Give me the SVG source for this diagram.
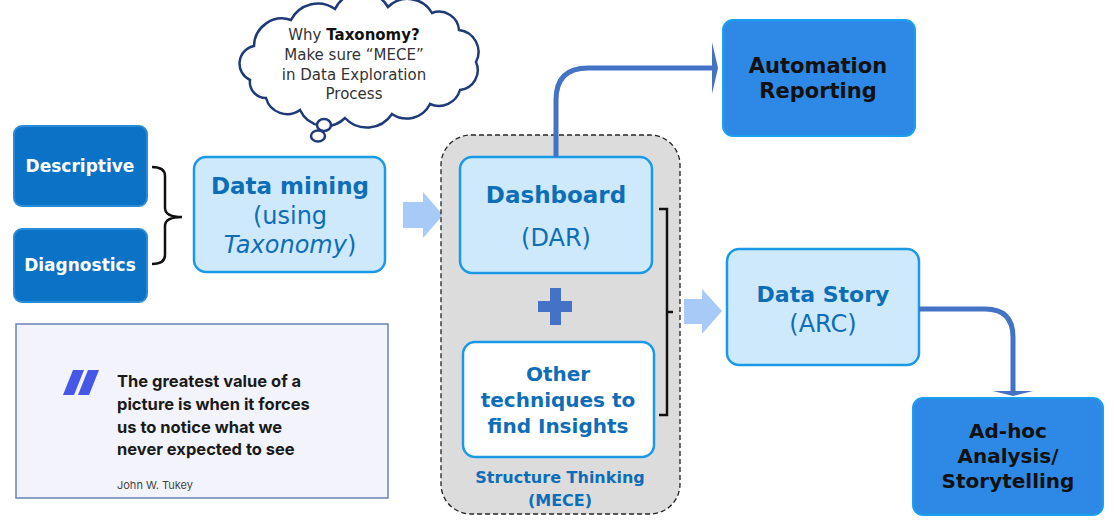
<svg xmlns="http://www.w3.org/2000/svg" width="1114" height="524" viewBox="0 0 1114 524">
<defs>
<style>
.dark{fill:#0B73C5;stroke:#2B8AD6;stroke-width:2}
.light{fill:#CDE9FB;stroke:#1A9AE6;stroke-width:2.5}
.white{fill:#FFFFFF;stroke:#1A9AE6;stroke-width:2.5}
.mid{fill:#2E89E6;stroke:#1AA0EE;stroke-width:2}
.t{font-family:"DejaVu Sans","Liberation Sans",sans-serif;text-anchor:middle}
.b{font-weight:bold}
.wt{fill:#FFFFFF}
.bt{fill:#0E6DB7}
.kt{fill:#111111}
.conn{fill:none;stroke:#4472C4;stroke-width:5}
.fat{fill:#A8CAF7}
.brace{fill:none;stroke:#111;stroke-width:2.5}
</style>
<marker id="ahTop" markerUnits="userSpaceOnUse" viewBox="-1 -28 9 56" markerWidth="9" markerHeight="56" refX="0" refY="0" orient="auto">
<path d="M0,-26 L6,0 L0,26 Z" fill="#4472C4"/>
</marker>
<marker id="ahBot" markerUnits="userSpaceOnUse" viewBox="-1 -22 8 44" markerWidth="8" markerHeight="44" refX="0" refY="0" orient="auto">
<path d="M0,-20 L5,0 L0,20 Z" fill="#4472C4"/>
</marker>
</defs>
<rect width="1114" height="524" fill="#FFFFFF"/>

<g id="flow-arrows">
<path class="fat" d="M403,202 H423 V192 L443,215 L423,238 V228 H403 Z"/>
<path class="fat" d="M684,299 H702 V289 L722,311 L702,334 V324 H684 Z"/>
</g>

<g id="container">
<rect x="441" y="135" width="239" height="379" rx="30" fill="#DCDCDC" stroke="#222" stroke-width="1.3" stroke-dasharray="5 3"/>
<text class="t b bt" x="560" y="483" font-size="16">Structure Thinking</text>
<text class="t b bt" x="560" y="506" font-size="16">(MECE)</text>
</g>

<g id="descriptive">
<rect class="dark" x="14" y="126" width="133" height="80" rx="8"/>
<text class="t b wt" x="80" y="172" font-size="17">Descriptive</text>
</g>
<g id="diagnostics">
<rect class="dark" x="14" y="229" width="133" height="73" rx="8"/>
<text class="t b wt" x="80" y="271" font-size="17">Diagnostics</text>
</g>

<g id="left-brace">
<path class="brace" d="M152,167 Q165,167 165,176 V208 Q165,217 182,217 Q165,217 165,226 V255 Q165,264 152,264"/>
</g>

<g id="data-mining">
<rect class="light" x="194" y="157" width="191" height="115" rx="12"/>
<text class="t b bt" x="290" y="194" font-size="23">Data mining</text>
<text class="t bt" x="290" y="224" font-size="24">(using</text>
<text class="t bt" x="290" y="253" font-size="24"><tspan font-style="italic">Taxonomy</tspan>)</text>
</g>

<g id="thought-cloud">
<path d="M250,80 A18,18 0 0 1 254,46 A28,28 0 0 1 291,20 A30,30 0 0 1 335,9 A30,30 0 0 1 388,7 A28,28 0 0 1 432,13 A20,20 0 0 1 459,30 A22,22 0 0 1 476,62 A20,20 0 0 1 460,90 A22,22 0 0 1 430,104 A26,26 0 0 1 392,114 A30,30 0 0 1 345,118 A28,28 0 0 1 300,110 A22,22 0 0 1 266,98 A16,16 0 0 1 250,80 Z" fill="#FFFFFF" stroke="#1F3A78" stroke-width="2.5"/>
<ellipse cx="324" cy="125" rx="7" ry="6" fill="#FFFFFF" stroke="#1F3A78" stroke-width="2.5"/>
<ellipse cx="318" cy="136" rx="7" ry="5.5" fill="#FFFFFF" stroke="#1F3A78" stroke-width="2.5"/>
<text class="t" x="354" y="40" font-size="15" fill="#333">Why <tspan font-weight="bold" fill="#111">Taxonomy?</tspan></text>
<text class="t" x="354" y="60" font-size="15" fill="#333">Make sure “MECE”</text>
<text class="t" x="354" y="80" font-size="15" fill="#333">in Data Exploration</text>
<text class="t" x="354" y="99" font-size="15" fill="#333">Process</text>
</g>

<g id="dashboard">
<rect class="light" x="460" y="157" width="192" height="116" rx="12"/>
<text class="t b bt" x="556" y="203" font-size="23">Dashboard</text>
<text class="t bt" x="556" y="246" font-size="24">(DAR)</text>
</g>

<g id="plus">
<path d="M550,288 H561 V301 H572 V312 H561 V325 H550 V312 H538 V301 H550 Z" fill="#4472C4"/>
</g>

<g id="other-techniques">
<rect class="white" x="463" y="342" width="191" height="115" rx="12"/>
<text class="t b bt" x="558" y="381" font-size="20">Other</text>
<text class="t b bt" x="558" y="407" font-size="20">techniques to</text>
<text class="t b bt" x="558" y="433" font-size="20">find Insights</text>
</g>

<g id="right-brace">
<path class="brace" d="M659,209 H667 V415 H659 M667,312 H673"/>
</g>

<g id="automation-reporting">
<rect class="mid" x="723" y="20" width="192" height="116" rx="10"/>
<text class="t b kt" x="818" y="73" font-size="21">Automation</text>
<text class="t b kt" x="818" y="98" font-size="21">Reporting</text>
</g>

<g id="data-story">
<rect class="light" x="727" y="249" width="192" height="116" rx="12"/>
<text class="t b bt" x="823" y="302" font-size="22">Data Story</text>
<text class="t bt" x="823" y="332" font-size="24">(ARC)</text>
</g>

<g id="ad-hoc">
<rect class="mid" x="913" y="398" width="190" height="117" rx="10"/>
<text class="t b kt" x="1008" y="438" font-size="20">Ad-hoc</text>
<text class="t b kt" x="1008" y="463" font-size="20">Analysis/</text>
<text class="t b kt" x="1008" y="488" font-size="20">Storytelling</text>
</g>

<g id="connectors">
<path class="conn" d="M556,157 V100 Q556,68 588,68 H712" marker-end="url(#ahTop)"/>
<path class="conn" d="M919,309 H985 Q1013,309 1013,337 V391" marker-end="url(#ahBot)"/>
</g>

<g id="quote">
<rect x="16" y="324" width="372" height="174" fill="#F2F3FB" stroke="#6A82B5" stroke-width="1.5"/>
<polygon points="73,370 84,370 74,395 63,395" fill="#4457E6"/>
<polygon points="88,370 99,370 89,395 78,395" fill="#4457E6"/>
<g font-family="Inter,'Liberation Sans',sans-serif" font-weight="bold" font-size="16.5" fill="#1A1A1A">
<text x="117" y="387">The greatest value of a</text>
<text x="117" y="410">picture is when it forces</text>
<text x="117" y="433">us to notice what we</text>
<text x="117" y="455">never expected to see</text>
</g>
<text x="117" y="489" font-family="Inter,'Liberation Sans',sans-serif" font-size="11" fill="#444">John W. Tukey</text>
</g>
</svg>
